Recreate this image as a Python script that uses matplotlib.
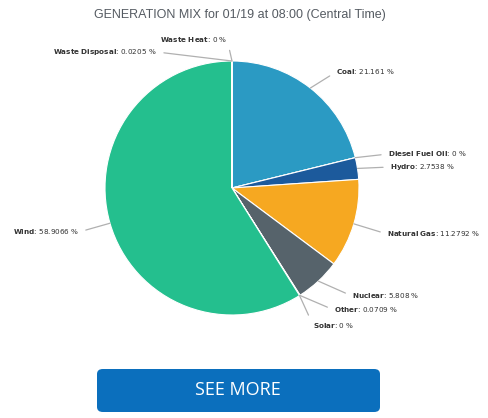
import numpy as np
import matplotlib as mpl
mpl.use('Agg')
import matplotlib.pyplot as plt
from matplotlib.patches import FancyBboxPatch

# generation mix shares (%), clockwise from 12 o'clock
fuels = ['Coal', 'Diesel Fuel Oil', 'Hydro', 'Natural Gas', 'Nuclear', 'Other',
         'Solar', 'Wind', 'Waste Disposal', 'Waste Heat']
shares = [21.161, 0, 2.7538, 11.2792, 5.808, 0.0709, 0, 58.9066, 0.0205, 0]
share_text = ['21.161', '0', '2.7538', '11.2792', '5.808', '0.0709', '0',
              '58.9066', '0.0205', '0']
colors = ['#2b9ac3', '#7a4f9a', '#1c5a9c', '#f6a821', '#56636b', '#9aa5ab',
          '#f2d23a', '#24bf8e', '#8a6d3b', '#c44e52']

W, H = 488, 418
cx, cy, R = 232, 188, 127   # pie centre / radius in pixels

# label text positions in pixels (layout only)
label_pos = {
    'Coal': (336, 72, 'left'),
    'Diesel Fuel Oil': (388, 154, 'left'),
    'Hydro': (390, 167, 'left'),
    'Natural Gas': (387, 234, 'left'),
    'Nuclear': (352, 296, 'left'),
    'Other': (334, 310, 'left'),
    'Solar': (313, 325, 'left'),
    'Wind': (79, 232, 'right'),
    'Waste Disposal': (157, 52, 'right'),
    'Waste Heat': (227, 39, 'right'),
}

fig = plt.figure(figsize=(W / 100, H / 100), dpi=100)
ax = fig.add_axes([(cx - R) / W, (H - cy - R) / H, 2 * R / W, 2 * R / H])
wedges, _ = ax.pie(shares, colors=colors, startangle=90, counterclock=False,
                   radius=1, wedgeprops=dict(edgecolor='white', linewidth=0.8))
ax.set_xlim(-1, 1)
ax.set_ylim(-1, 1)
ax.set_aspect('equal')
ax.axis('off')

for w, name, txt in zip(wedges, fuels, share_text):
    mid = np.deg2rad((w.theta1 + w.theta2) / 2)
    ax0, ay0 = np.cos(mid), np.sin(mid)
    px, py, ha = label_pos[name]
    tx, ty = (px - cx) / R, (cy - py) / R
    bold = name.replace(' ', r'\ ')
    ax.annotate(r'$\bf{' + bold + '}$: ' + txt + ' %', xy=(ax0, ay0),
                xytext=(tx, ty), ha=ha, va='center', fontsize=5.2,
                color='#333333', annotation_clip=False,
                arrowprops=dict(arrowstyle='-', color='#b0b0b0', lw=0.9,
                                shrinkA=3, shrinkB=0,
                                relpos=(0, 0.5) if ha == 'left' else (1, 0.5)))

fig.text(240 / W, 1 - 15 / H, 'GENERATION MIX for 01/19 at 08:00 (Central Time)',
         ha='center', va='center', fontsize=9, color='#555b62',
         family='Liberation Sans')

btn = FancyBboxPatch((97 / W, 1 - 412 / H), (380 - 97) / W, 43 / H,
                     boxstyle='round,pad=0,rounding_size=0.012',
                     transform=fig.transFigure, facecolor='#0b6fbd',
                     edgecolor='none')
fig.patches.append(btn)
fig.text(238 / W, 1 - 390 / H, 'SEE MORE', ha='center', va='center',
         fontsize=13, color='white', family='Open Sans')

fig.savefig('out.png', dpi=100)
